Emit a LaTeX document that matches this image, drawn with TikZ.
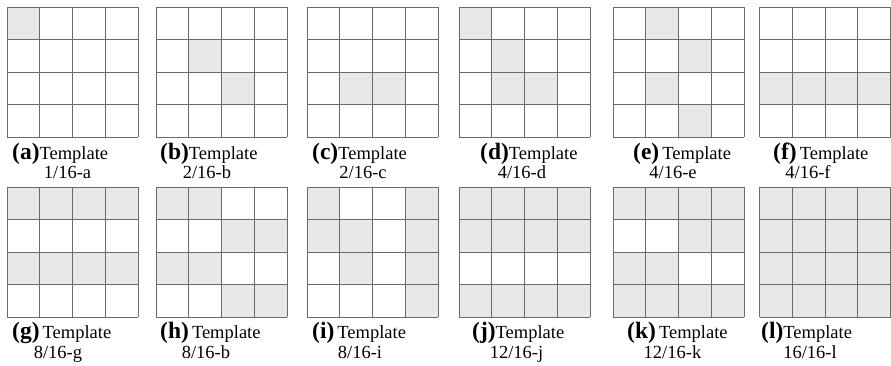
\documentclass[tikz,border=0pt]{standalone}
\usepackage{fontspec}
\setmainfont{Liberation Serif}
\definecolor{cellgray}{HTML}{E8E8E8}
\definecolor{gridc}{HTML}{6A6A6A}
\newcommand\tgrid[3]{%
  \begin{scope}[shift={(#1,#2)}]
    \foreach \r/\c in {#3} {\fill[cellgray] (\c*32.75,\r*32.5) rectangle ++(32.75,32.5);}
    \foreach \i in {0,...,4} {
      \draw[gridline] (\i*32.75,0) -- (\i*32.75,130);
      \draw[gridline] (0,\i*32.5) -- (131,\i*32.5);
    }
  \end{scope}}
\newcommand\tlab[8]{% name, x1, y1, letter, sep, x2, y2, text2
  \node[lab,anchor=base west] (#1a) at (#2,#3) {{\fontsize{23.5}{23.5}\selectfont\bfseries(#4)}#5Template};
  \node[lab,anchor=base] (#1b) at (#6,#7) {#8};}
\begin{document}
\begin{tikzpicture}[x=1pt,y=-1pt,
  gridline/.style={draw=gridc,line width=1pt},
  lab/.style={inner sep=0pt,font=\fontsize{18.5}{18.5}\selectfont},
]
\useasboundingbox (0,0) rectangle (891,365);
\fill[white] (0,0) rectangle (891,365);
% row 1
\tgrid{7}{7}{0/0}
\tgrid{156}{7}{1/1,2/2}
\tgrid{307}{7}{2/1,2/2}
\tgrid{459}{7}{0/0,1/1,2/1,2/2}
\tgrid{613}{7}{0/1,1/2,2/1,3/2}
\tgrid{759.5}{7}{2/0,2/1,2/2,2/3}
% row 2
\tgrid{7}{187}{0/0,0/1,0/2,0/3,2/0,2/1,2/2,2/3}
\tgrid{156}{187}{0/0,0/1,1/2,1/3,2/0,2/1,3/2,3/3}
\tgrid{307}{187}{0/0,0/3,1/0,1/1,1/3,2/1,2/3,3/3}
\tgrid{459}{187}{0/0,0/1,0/2,0/3,1/0,1/1,1/2,1/3,3/0,3/1,3/2,3/3}
\tgrid{613}{187}{0/0,0/1,0/2,0/3,1/2,1/3,2/0,2/1,3/0,3/1,3/2,3/3}
\tgrid{759.5}{187}{0/0,0/1,0/2,0/3,1/0,1/1,1/2,1/3,2/0,2/1,2/2,2/3,3/0,3/1,3/2,3/3}
% labels
\tlab{la}{12}{159}{a}{}{67.5}{178}{1/16-a}
\tlab{lb}{160}{159}{b}{}{207}{178}{2/16-b}
\tlab{lc}{312}{159}{c}{}{363}{178}{2/16-c}
\tlab{ld}{480}{159}{d}{}{522}{178}{4/16-d}
\tlab{le}{633}{159}{e}{\,}{673}{178}{4/16-e}
\tlab{lf}{773}{159}{f}{\,}{808}{178}{4/16-f}
\tlab{lg}{12}{338}{g}{\,}{58}{358}{8/16-g}
\tlab{lh}{160}{338}{h}{\,}{206}{358}{8/16-b}
\tlab{li}{312}{338}{i}{\,}{360}{358}{8/16-i}
\tlab{lj}{472}{338}{j}{}{516.5}{358}{12/16-j}
\tlab{lk}{627}{338}{k}{\,}{672.5}{358}{12/16-k}
\tlab{ll}{761}{338}{l}{}{810}{358}{16/16-l}
\end{tikzpicture}
\end{document}
